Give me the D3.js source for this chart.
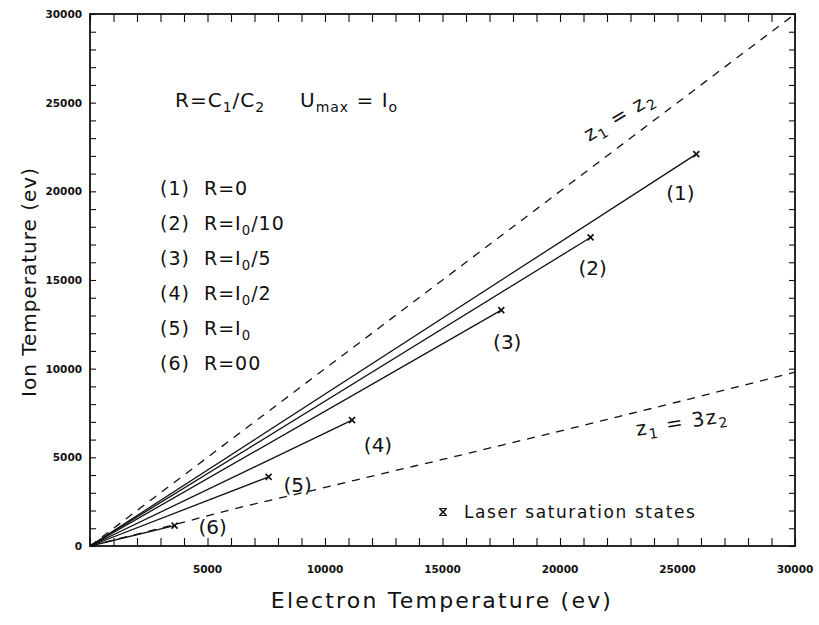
<!doctype html>
<html lang="en">
<head>
<meta charset="utf-8" />
<title>Ion vs electron temperature</title>
<script src="https://d3js.org/d3.v7.min.js"></script>
<style type="text/css">
  html, body { margin: 0; padding: 0; background: #fff; }
  svg text { font-family: "DejaVu Sans", sans-serif; fill: #111; }
  .tick-lbl { font-weight: bold; font-size: 10.5px; }
</style>
</head>
<body>
<div id="chart"></div>
<script>
// --- data (eV) ---
var caseNames = ["(1)", "(2)", "(3)", "(4)", "(5)", "(6)"];
var caseText  = [["R=0"], ["R=I", "0", "/10"], ["R=I", "0", "/5"], ["R=I", "0", "/2"], ["R=I", "0", ""], ["R=00"]];
var endTe = [25800, 21300, 17500, 11150, 7600, 3600];   // saturation states, electron temp
var endTi = [22100, 17400, 13300, 7100, 3900, 1150];    // saturation states, ion temp
var equalTe = [0, 30000];                                // z1 = z2
var equalTi = [0, 30000];
var tripleTe = [0, 3800, 6000, 8000, 10000, 12500, 15000, 17500, 20000, 22500, 25000, 27500, 30000]; // z1 = 3 z2
var tripleTi = [0, 1280, 2050, 2680, 3300, 4100, 4880, 5680, 6480, 7300, 8120, 8960, 9800];
var tickLabelsX = [5000, 10000, 15000, 20000, 25000, 30000];
var tickLabelsY = [0, 5000, 10000, 15000, 20000, 25000, 30000];

var W = 819, H = 625;
var svg = d3.select("#chart").append("svg").attr("width", W).attr("height", H);

var x = d3.scaleLinear().domain([0, 30000]).range([90, 795]);
var y = d3.scaleLinear().domain([0, 30000]).range([546, 14]);
var minor = d3.range(0, 30001, 1000);

// ticks pointing inward on all four sides
function noLbl(a) { return a.tickValues(minor).tickFormat("").tickSizeOuter(0); }
svg.append("g").attr("transform", "translate(0," + y(0) + ")").call(noLbl(d3.axisBottom(x)).tickSizeInner(-8));
svg.append("g").attr("transform", "translate(0," + y(30000) + ")").call(noLbl(d3.axisTop(x)).tickSizeInner(-8));
svg.append("g").attr("transform", "translate(" + x(0) + ",0)").call(noLbl(d3.axisLeft(y)).tickSizeInner(-6));
svg.append("g").attr("transform", "translate(" + x(30000) + ",0)").call(noLbl(d3.axisRight(y)).tickSizeInner(-6));
svg.selectAll(".domain").remove();
svg.selectAll(".tick line").attr("stroke", "#111").attr("stroke-width", 1.1);

// frame
svg.append("rect").attr("x", x(0)).attr("y", y(30000))
  .attr("width", x(30000) - x(0)).attr("height", y(0) - y(30000))
  .attr("fill", "none").attr("stroke", "#111").attr("stroke-width", 1.8);

// tick labels
svg.selectAll(".xl").data(tickLabelsX).enter().append("text")
  .attr("class", "tick-lbl").attr("x", function(d){ return x(d); }).attr("y", 573)
  .attr("text-anchor", "middle").text(function(d){ return d; });
svg.selectAll(".yl").data(tickLabelsY).enter().append("text")
  .attr("class", "tick-lbl").attr("x", 82).attr("y", function(d){ return y(d) + 4; })
  .attr("text-anchor", "end").text(function(d){ return d; });

// axis titles
svg.append("text").attr("x", 442).attr("y", 608).attr("text-anchor", "middle")
  .style("font-size", "22px").style("letter-spacing", "2.2px").text("Electron Temperature (ev)");
svg.append("text").attr("transform", "translate(36,282) rotate(-90)").attr("text-anchor", "middle")
  .style("font-size", "20px").style("letter-spacing", "1px").text("Ion Temperature (ev)");

// dashed reference curves
var line = d3.line().x(function(d){ return x(d[0]); }).y(function(d){ return y(d[1]); });
var smooth = d3.line().curve(d3.curveMonotoneX).x(function(d){ return x(d[0]); }).y(function(d){ return y(d[1]); });
svg.append("path").datum(d3.zip(equalTe, equalTi))
  .attr("d", line).attr("fill", "none").attr("stroke", "#111")
  .attr("stroke-width", 1.3).attr("stroke-dasharray", "8,7");
svg.append("path").datum(d3.zip(tripleTe, tripleTi))
  .attr("d", smooth).attr("fill", "none").attr("stroke", "#111")
  .attr("stroke-width", 1.3).attr("stroke-dasharray", "8,7");

// solid lines from the origin to each saturation state
var cases = endTe.map(function(te, i){ return [[0, 0], [te, endTi[i]]]; });
svg.selectAll(".case").data(cases).enter().append("path")
  .attr("d", line).attr("fill", "none").attr("stroke", "#111").attr("stroke-width", 1.3);

function marker(g, cx, cy) {
  g.append("path").attr("d", "M" + (cx-3) + "," + (cy-3) + "L" + (cx+3) + "," + (cy+3) +
      "M" + (cx-3) + "," + (cy+3) + "L" + (cx+3) + "," + (cy-3))
    .attr("stroke", "#111").attr("stroke-width", 1.6);
}
endTe.forEach(function(te, i){ marker(svg, x(te), y(endTi[i])); });

// case labels near the ends (pixel offsets)
var labelDx = [-16, 2, 6, 26, 29, 38], labelDy = [46, 38, 39, 32, 15, 8];
svg.selectAll(".cl").data(caseNames).enter().append("text")
  .attr("x", function(d, i){ return x(endTe[i]) + labelDx[i]; })
  .attr("y", function(d, i){ return y(endTi[i]) + labelDy[i]; })
  .attr("text-anchor", "middle").style("font-size", "20px").text(function(d){ return d; });

// curve labels
function subText(sel, parts, size) {
  // parts: alternating normal / subscript strings
  parts.forEach(function(p, i){
    if (!p) return;
    var t = sel.append("tspan").text(p);
    if (i % 2 === 1) t.attr("dy", 5).style("font-size", (size * 0.7) + "px");
    else if (i > 0) t.attr("dy", -5);
  });
}
var t1 = svg.append("text").attr("transform", "translate(589,142) rotate(-31)")
  .style("font-size", "20px").style("letter-spacing", "1.5px");
subText(t1, ["z", "1", " = z", "2"], 20);
var t2 = svg.append("text").attr("transform", "translate(637,436) rotate(-9)")
  .style("font-size", "20px").style("letter-spacing", "1.5px");
subText(t2, ["z", "1", " = 3z", "2"], 20);

// header text
var h1 = svg.append("text").attr("x", 175).attr("y", 107).style("font-size", "20px").style("letter-spacing", "1px");
subText(h1, ["R=C", "1", "/C", "2"], 20);
var h2 = svg.append("text").attr("x", 300).attr("y", 107).style("font-size", "20px").style("letter-spacing", "1px");
subText(h2, ["U", "max", " = I", "o"], 20);

// case list
caseText.forEach(function(parts, i){
  var t = svg.append("text").attr("x", 160).attr("y", 195 + i * 35)
    .style("font-size", "19px").style("letter-spacing", "1px");
  t.append("tspan").text(caseNames[i] + "\u00a0\u00a0");
  subText(t, parts, 19);
});

// saturation legend
var lg = svg.append("g");
marker(lg, 443, 512);
lg.append("path").attr("d", "M439,508.5H447M439,515.5H447").attr("stroke", "#111").attr("stroke-width", 1);
lg.append("text").attr("x", 464).attr("y", 518).style("font-size", "17px").style("letter-spacing", "1.6px")
  .text("Laser saturation states");
</script>
</body>
</html>
